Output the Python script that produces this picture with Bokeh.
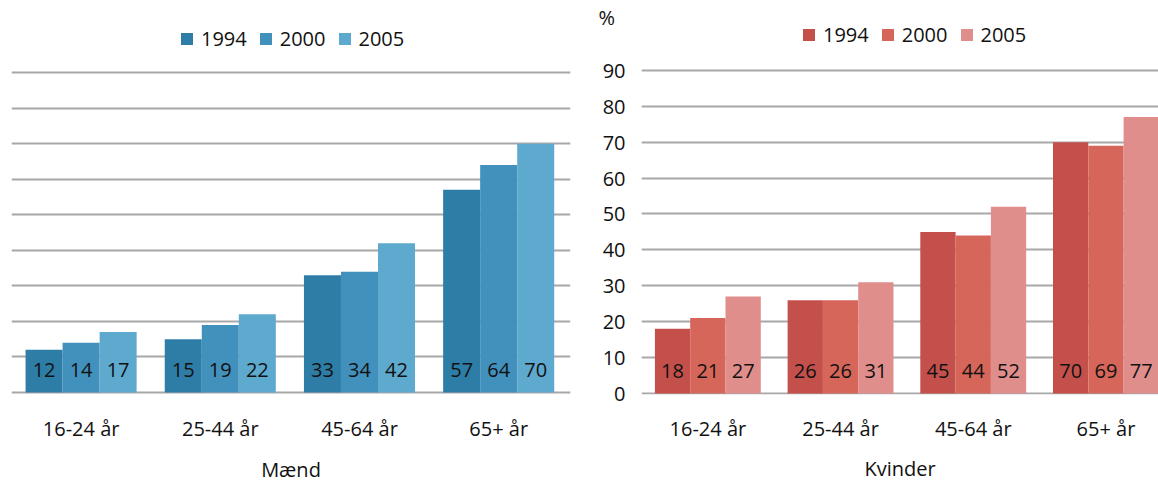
from bokeh.plotting import figure
from bokeh.models import ColumnDataSource, FixedTicker, Legend, LegendItem
from bokeh.layouts import row
from bokeh.transform import dodge
from bokeh.embed import file_html
from bokeh.resources import INLINE

# ---------------- data ----------------
categories = ["16-24 år", "25-44 år", "45-64 år", "65+ år"]
years = ["1994", "2000", "2005"]
men_1994 = [12, 15, 33, 57]
men_2000 = [14, 19, 34, 64]
men_2005 = [17, 22, 42, 70]
women_1994 = [18, 26, 45, 70]
women_2000 = [21, 26, 44, 69]
women_2005 = [27, 31, 52, 77]
y_ticks = [0, 10, 20, 30, 40, 50, 60, 70, 80, 90]
men_title = "Mænd"
women_title = "Kvinder"
unit_label = "%"

# ---------------- style ----------------
FONT = "Open Sans"
FS = "20px"
TXT = "#111111"
GRID = "#A8A8A8"
blues = ["#2E7DA7", "#4291BD", "#5EAACF"]
reds = ["#C4504C", "#D6665A", "#E08E8B"]
BAR_W = 0.266
OFFSETS = [-BAR_W, 0.0, BAR_W]
LABEL_Y = 6.2
H = 486


def panel(series, colors, title, width, min_left, min_right, x_span, ppu,
          frame_h, zero_px, legend_loc, show_y, xlab_standoff, title_standoff):
    bottom = H - frame_h
    y_start = -(frame_h - zero_px) / ppu
    y_end = y_start + frame_h / ppu
    xs = list(range(1, len(categories) + 1))
    data = {"x": xs}
    for yr, vals in zip(years, series):
        data["v" + yr] = vals
        data["t" + yr] = [str(v) for v in vals]
    src = ColumnDataSource(data)

    p = figure(width=width, height=H, output_backend="svg", toolbar_location=None,
               x_range=(0.5, 0.5 + x_span), y_range=(y_start, y_end),
               min_border_left=min_left, min_border_right=min_right,
               min_border_top=0, min_border_bottom=bottom,
               y_axis_location="left" if show_y else None,
               outline_line_color=None, background_fill_color="white",
               border_fill_color="white")

    rends = []
    for yr, col, off in zip(years, colors, OFFSETS):
        r = p.vbar(x=dodge("x", off), top="v" + yr, width=BAR_W, bottom=0,
                   source=src, fill_color=col, line_color=None)
        rends.append(r)
    for yr, off in zip(years, OFFSETS):
        p.text(x=dodge("x", off), y=LABEL_Y, text="t" + yr, source=src,
               text_align="center", text_baseline="middle",
               text_font={"value": FONT}, text_font_size=FS, text_color=TXT)

    p.xgrid.visible = False
    p.ygrid.ticker = FixedTicker(ticks=y_ticks)
    p.ygrid.grid_line_color = GRID
    p.ygrid.grid_line_width = 2

    xa = p.xaxis[0]
    xa.ticker = FixedTicker(ticks=xs)
    xa.major_label_overrides = {x: c for x, c in zip(xs, categories)}
    xa.axis_line_color = None
    xa.major_tick_line_color = None
    xa.minor_tick_line_color = None
    xa.major_tick_in = 0
    xa.major_tick_out = 0
    xa.major_label_standoff = xlab_standoff
    xa.major_label_text_font = FONT
    xa.major_label_text_font_size = FS
    xa.major_label_text_color = TXT
    xa.axis_label = title
    xa.axis_label_standoff = title_standoff
    xa.axis_label_text_font = FONT
    xa.axis_label_text_font_size = FS
    xa.axis_label_text_font_style = "normal"
    xa.axis_label_text_color = TXT

    if show_y:
        unit_y = y_end - 17 / ppu
        ya = p.yaxis[0]
        ya.ticker = FixedTicker(ticks=y_ticks + [unit_y])
        ya.major_label_overrides = {unit_y: unit_label + "\u00a0\u00a0"}
        ya.axis_line_color = None
        ya.major_tick_line_color = None
        ya.minor_tick_line_color = None
        ya.major_tick_in = 0
        ya.major_tick_out = 0
        ya.major_label_standoff = 16
        ya.major_label_text_font = FONT
        ya.major_label_text_font_size = FS
        ya.major_label_text_color = TXT

    legend = Legend(items=[LegendItem(label=yr, renderers=[r]) for yr, r in zip(years, rends)],
                    location=legend_loc, orientation="horizontal",
                    glyph_width=15, glyph_height=15, label_standoff=7, spacing=11,
                    padding=0, margin=0, border_line_color=None,
                    background_fill_alpha=0, label_text_font=FONT,
                    label_text_font_size=FS, label_text_color=TXT)
    p.add_layout(legend)
    return p


p1 = panel([men_1994, men_2000, men_2005], blues, men_title,
           width=590, min_left=11, min_right=20, x_span=4.016, ppu=3.555,
           frame_h=394, zero_px=392, legend_loc=(168, 342), show_y=False,
           xlab_standoff=20, title_standoff=11)
p2 = panel([women_1994, women_2000, women_2005], reds, women_title,
           width=568, min_left=51, min_right=0, x_span=3.896, ppu=3.6,
           frame_h=395, zero_px=394, legend_loc=(160, 346), show_y=True,
           xlab_standoff=20, title_standoff=10)

layout = row(p1, p2)
open("out.html", "w").write(file_html(layout, INLINE))
